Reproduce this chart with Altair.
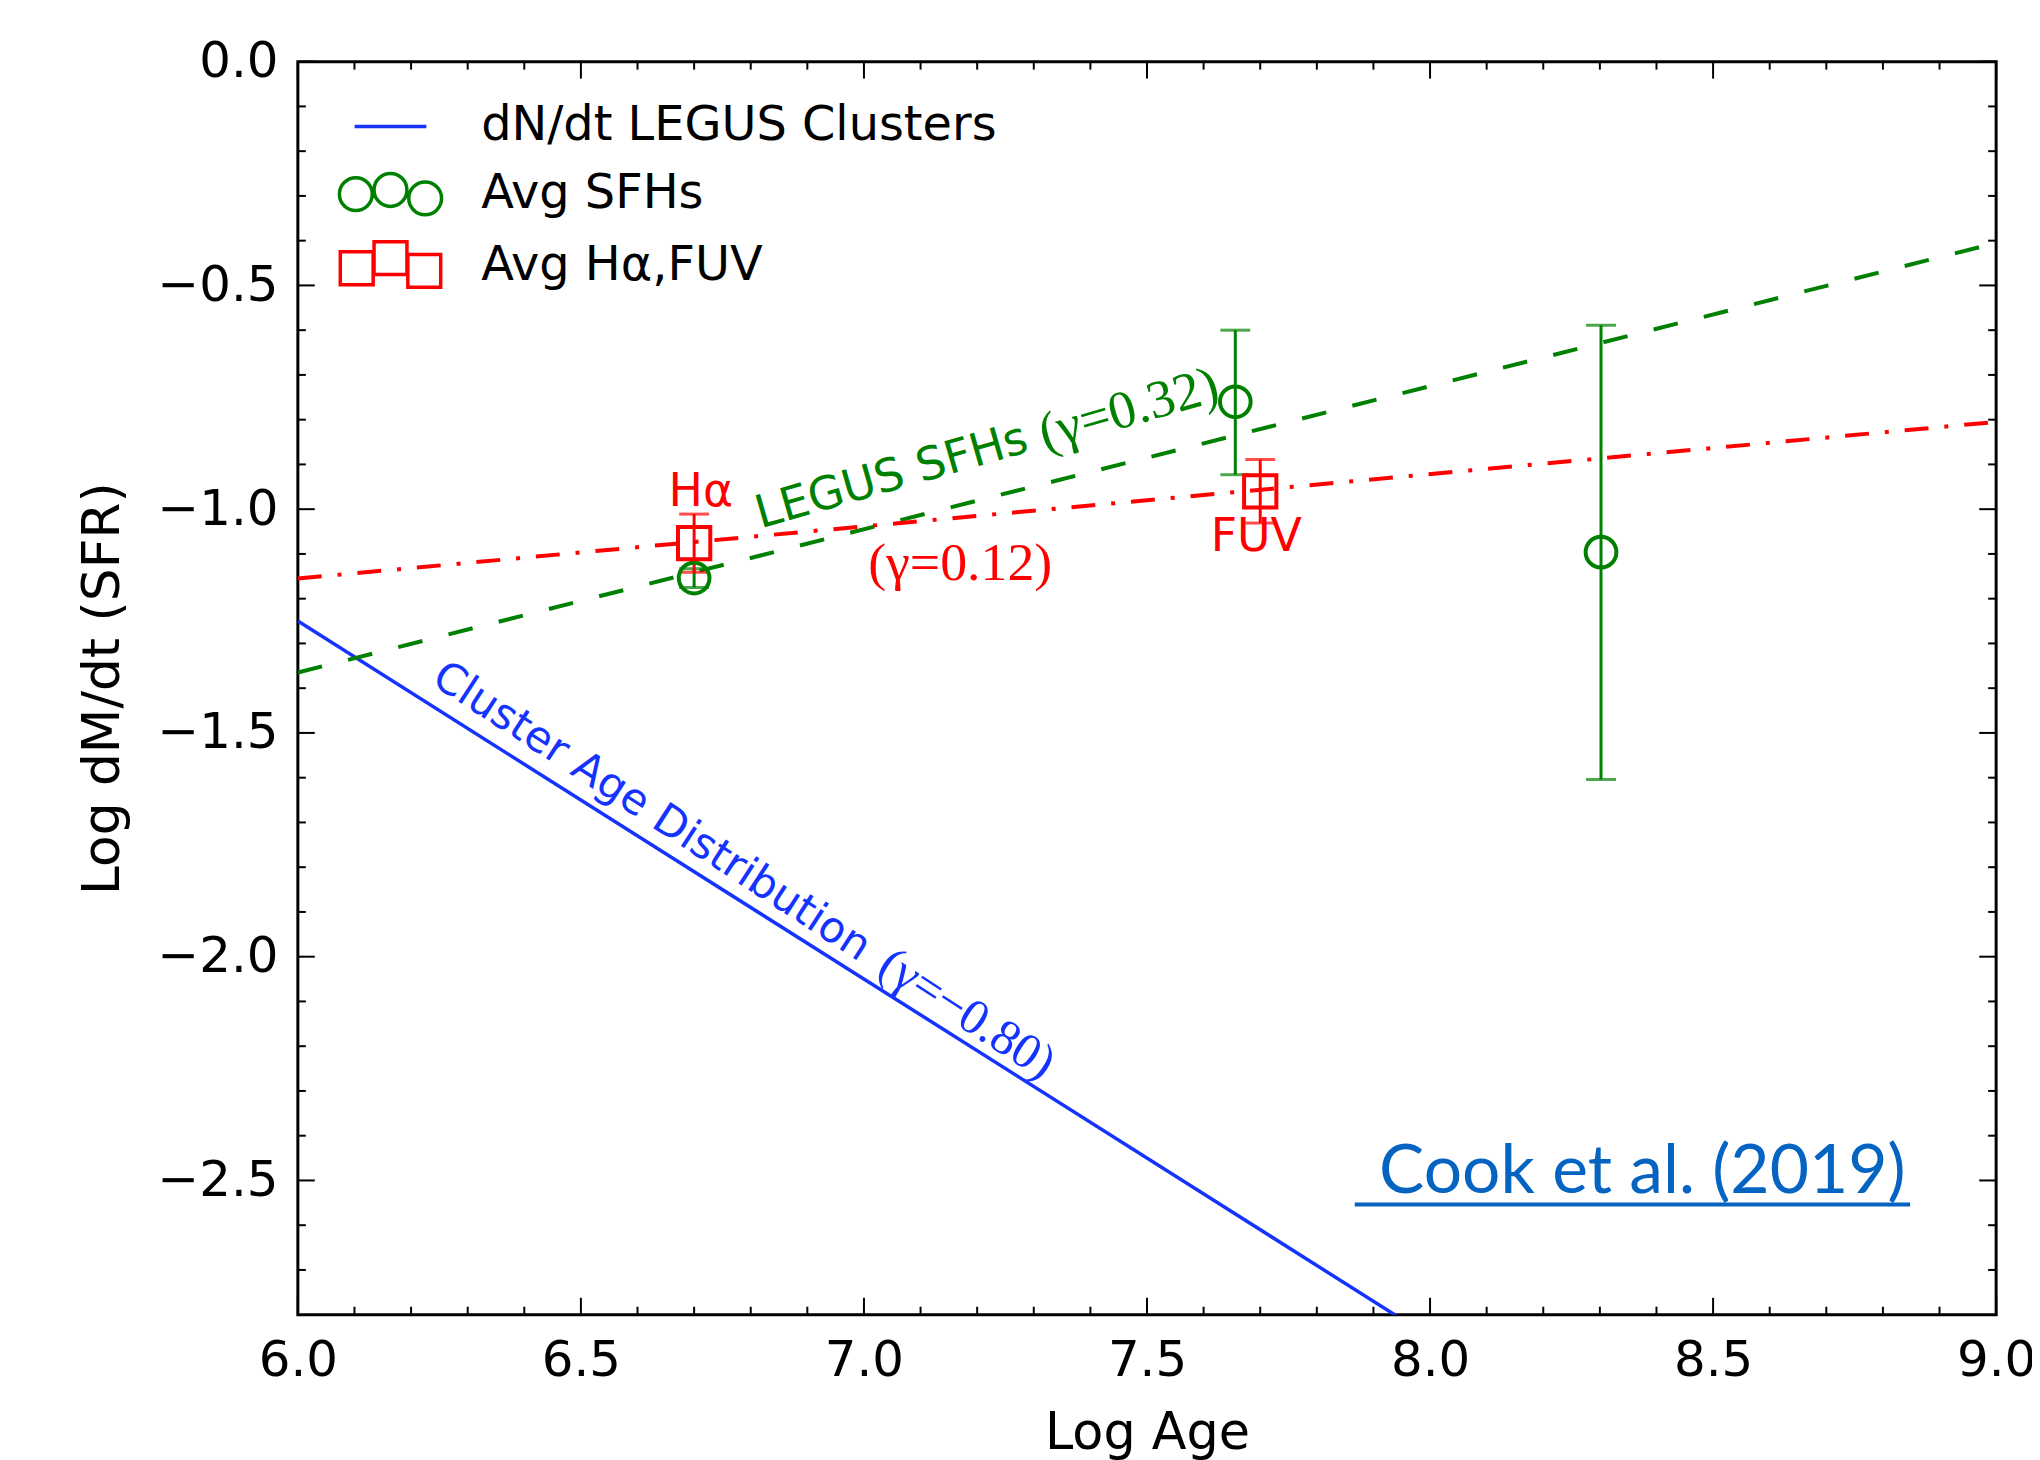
import altair as alt
import pandas as pd

# ---------------- values ----------------
# fitted lines (Log Age, Log dM/dt)
cluster_x = [6.0, 8.0]
cluster_y = [-1.25, -2.85]          # gamma = -0.80
sfh_fit_x = [6.0, 9.0]
sfh_fit_y = [-1.365, -0.405]        # gamma = 0.32
haf_fit_x = [6.0, 9.0]
haf_fit_y = [-1.155, -0.805]        # gamma = 0.12

# average SFHs (green circles) with error bars
sfh_age = [6.70, 7.656, 8.302]
sfh_val = [-1.154, -0.760, -1.096]
sfh_lo = [-1.175, -0.923, -1.604]
sfh_hi = [-1.133, -0.600, -0.589]

# average Halpha / FUV (red squares) with error bars
haf_age = [6.70, 7.70]
haf_val = [-1.076, -0.960]
haf_lo = [-1.141, -1.031]
haf_hi = [-1.011, -0.889]

# axis ticks
x_major = [6.0, 6.5, 7.0, 7.5, 8.0, 8.5, 9.0]
x_minor = [6.1, 6.2, 6.3, 6.4, 6.6, 6.7, 6.8, 6.9, 7.1, 7.2, 7.3, 7.4,
           7.6, 7.7, 7.8, 7.9, 8.1, 8.2, 8.3, 8.4, 8.6, 8.7, 8.8, 8.9]
y_major = [0.0, -0.5, -1.0, -1.5, -2.0, -2.5]
y_minor = [-0.1, -0.2, -0.3, -0.4, -0.6, -0.7, -0.8, -0.9, -1.1, -1.2,
           -1.3, -1.4, -1.6, -1.7, -1.8, -1.9, -2.1, -2.2, -2.3, -2.4,
           -2.6, -2.7]

legend_labels = ["dN/dt LEGUS Clusters", "Avg SFHs", "Avg H\u03b1,FUV"]

# annotations
sans_text = ["H\u03b1", "FUV", "LEGUS SFHs", "Cluster Age Distribution"]
sans_x = [6.712, 7.693, 7.049, 6.625]
sans_y = [-0.962, -1.063, -0.927, -1.676]
sans_angle = [0, 0, 344, 33]
sans_color = ["#ff0000", "#ff0000", "#008000", "#1533ff"]
sans_size = [46, 46, 46, 43]

serif_text = ["(\u03b3=0.32)", "(\u03b3=0.12)", "(\u03b3=\u22120.80)"]
serif_x = [7.468, 7.170, 7.182]
serif_y = [-0.778, -1.123, -2.128]
serif_angle = [344, 0, 33]
serif_color = ["#008000", "#ff0000", "#1533ff"]
serif_size = [54, 54, 50]

cite_text = ["Cook et al. (2019)"]
cite_x = [8.375]
cite_y = [-2.527]
cite_ul_x1 = [7.867]
cite_ul_x2 = [8.848]
cite_ul_y = [-2.554]

# ---------------- styling ----------------
W, H = 1705, 1258
BLUE, GREEN, RED = "#1533ff", "#008000", "#ff0000"
FONT = "DejaVu Sans"
MAJ, MIN = 17, 8

xs = alt.Scale(domain=[6.0, 9.0], nice=False, zero=False)
ys = alt.Scale(domain=[-2.8, 0.0], nice=False, zero=False)

x_axis = alt.Axis(values=x_major, format=".1f", title="Log Age", ticks=False,
                  tickSize=0, domain=False, grid=False, labelFontSize=50,
                  labelFont=FONT, labelPadding=21, labelFlush=False,
                  labelOverlap=False, labelColor="black", titleFontSize=51,
                  titleFont=FONT, titleFontWeight="normal", titleColor="black",
                  titlePadding=23)
y_axis = alt.Axis(values=y_major, format=".1f", title="Log dM/dt (SFR)",
                  ticks=False, tickSize=0, domain=False, grid=False,
                  labelFontSize=50, labelFont=FONT, labelPadding=20,
                  labelFlush=False, labelOverlap=False, labelColor="black",
                  titleFontSize=52, titleFont=FONT, titleFontWeight="normal",
                  titleColor="black", titlePadding=28)


def X(f):
    return alt.X(f, type="quantitative", scale=xs, axis=x_axis)


def Y(f):
    return alt.Y(f, type="quantitative", scale=ys, axis=y_axis)


# fitted lines
cluster_df = pd.DataFrame({"x": cluster_x, "y": cluster_y})
sfh_fit_df = pd.DataFrame({"x": sfh_fit_x, "y": sfh_fit_y})
haf_fit_df = pd.DataFrame({"x": haf_fit_x, "y": haf_fit_y})

cluster_line = alt.Chart(cluster_df).mark_line(color=BLUE, strokeWidth=3.5, clip=True).encode(
    x=X("x"), y=Y("y"))
sfh_line = alt.Chart(sfh_fit_df).mark_line(color=GREEN, strokeWidth=4, strokeDash=[25, 27],
                                           clip=True).encode(x=X("x"), y=Y("y"))
haf_line = alt.Chart(haf_fit_df).mark_line(color=RED, strokeWidth=4,
                                           strokeDash=[24, 16, 4, 16],
                                           clip=True).encode(x=X("x"), y=Y("y"))

# points with error bars
sfh_df = pd.DataFrame({"age": sfh_age, "val": sfh_val, "lo": sfh_lo, "hi": sfh_hi})
haf_df = pd.DataFrame({"age": haf_age, "val": haf_val, "lo": haf_lo, "hi": haf_hi})


def errbars(df, color):
    bar = alt.Chart(df).mark_rule(color=color, strokeWidth=3).encode(
        x=X("age"), y=Y("lo"), y2="hi")
    lo = alt.Chart(df).mark_tick(color=color, orient="horizontal", size=30,
                                 thickness=3).encode(x=X("age"), y=Y("lo"))
    hi = alt.Chart(df).mark_tick(color=color, orient="horizontal", size=30,
                                 thickness=3).encode(x=X("age"), y=Y("hi"))
    return [bar, lo, hi]


sfh_pts = alt.Chart(sfh_df).mark_point(shape="circle", filled=False, size=950,
                                       strokeWidth=4, color=GREEN, opacity=1).encode(
    x=X("age"), y=Y("val"))
haf_pts = alt.Chart(haf_df).mark_point(shape="square", filled=False, size=1050,
                                       strokeWidth=4, color=RED, opacity=1).encode(
    x=X("age"), y=Y("val"))


# ticks drawn inward on all four sides
def xticks(vals, length):
    d = pd.DataFrame({"t": vals})
    b = alt.Chart(d).mark_rule(color="black", strokeWidth=2).encode(
        x=X("t"), y=alt.value(H), y2=alt.value(H - length))
    t = alt.Chart(d).mark_rule(color="black", strokeWidth=2).encode(
        x=X("t"), y=alt.value(0), y2=alt.value(length))
    return [b, t]


def yticks(vals, length):
    d = pd.DataFrame({"t": vals})
    l = alt.Chart(d).mark_rule(color="black", strokeWidth=2).encode(
        y=Y("t"), x=alt.value(0), x2=alt.value(length))
    r = alt.Chart(d).mark_rule(color="black", strokeWidth=2).encode(
        y=Y("t"), x=alt.value(W), x2=alt.value(W - length))
    return [l, r]


tick_layers = xticks(x_major, MAJ) + xticks(x_minor, MIN) + yticks(y_major, MAJ) + yticks(y_minor, MIN)

# annotations
sans_df = pd.DataFrame({"text": sans_text, "x": sans_x, "y": sans_y, "angle": sans_angle,
                        "color": sans_color, "size": sans_size})
serif_df = pd.DataFrame({"text": serif_text, "x": serif_x, "y": serif_y, "angle": serif_angle,
                         "color": serif_color, "size": serif_size})


def text_layer(df, font):
    return alt.Chart(df).mark_text(font=font, align="center", baseline="middle").encode(
        x=X("x"), y=Y("y"), text="text:N",
        angle=alt.Angle("angle:Q", scale=None),
        color=alt.Color("color:N", scale=None),
        size=alt.Size("size:Q", scale=None))


sans_layer = text_layer(sans_df, FONT)
serif_layer = text_layer(serif_df, "Liberation Serif")

cite_df = pd.DataFrame({"text": cite_text, "x": cite_x, "y": cite_y})
cite_layer = alt.Chart(cite_df).mark_text(font="Lato", fontSize=68, color="#0563C1",
                                          align="center", baseline="alphabetic").encode(
    x=X("x"), y=Y("y"), text="text:N")
ul_df = pd.DataFrame({"x1": cite_ul_x1, "x2": cite_ul_x2, "y": cite_ul_y})
ul_layer = alt.Chart(ul_df).mark_rule(color="#0563C1", strokeWidth=4).encode(
    x=X("x1"), x2="x2", y=Y("y"))

# legend (built from the scale domain; the helper layer draws nothing)
line_path = "M-1.2,0L1.2,0"


def circ(cx, cy, r):
    return (f"M{cx - r},{cy}A{r},{r} 0 1,0 {cx + r},{cy}"
            f"A{r},{r} 0 1,0 {cx - r},{cy}Z")


def sq(cx, cy, h):
    return (f"M{cx - h},{cy - h}L{cx + h},{cy - h}L{cx + h},{cy + h}"
            f"L{cx - h},{cy + h}Z")


circ_path = circ(-1.16, 0.0, 0.55) + circ(0.0, -0.14, 0.55) + circ(1.16, 0.14, 0.55)
sq_path = sq(-1.13, 0.08, 0.55) + sq(0.0, -0.26, 0.55) + sq(1.13, 0.17, 0.55)

leg_props = dict(title=None, orient="none", legendX=61, legendY=33, symbolSize=3600,
                 symbolStrokeWidth=3.5, symbolOpacity=1, labelFontSize=48, labelFont=FONT,
                 labelColor="black", labelOffset=59, rowPadding=12, padding=0,
                 labelLimit=0, symbolFillColor="transparent")
leg_df = pd.DataFrame({"series": legend_labels})
legend_layer = alt.Chart(leg_df).transform_filter("false").mark_point(filled=False).encode(
    color=alt.Color("series:N", scale=alt.Scale(domain=legend_labels, range=[BLUE, GREEN, RED]),
                    legend=alt.Legend(**leg_props)),
    shape=alt.Shape("series:N", scale=alt.Scale(domain=legend_labels,
                                                range=[line_path, circ_path, sq_path]),
                    legend=alt.Legend(**leg_props)))

layers = ([cluster_line, sfh_line, haf_line] + errbars(sfh_df, GREEN) + errbars(haf_df, RED)
          + [sfh_pts, haf_pts] + tick_layers
          + [sans_layer, serif_layer, cite_layer, ul_layer, legend_layer])

chart = alt.layer(*layers).properties(
    width=W, height=H,
    autosize=alt.AutoSizeParams(type="none"),
    padding={"left": 291, "top": 51, "right": 36, "bottom": 143},
).configure(font=FONT).configure_view(stroke="black", strokeWidth=3)

chart.save("out.html", embed_options={"renderer": "svg", "actions": False})
